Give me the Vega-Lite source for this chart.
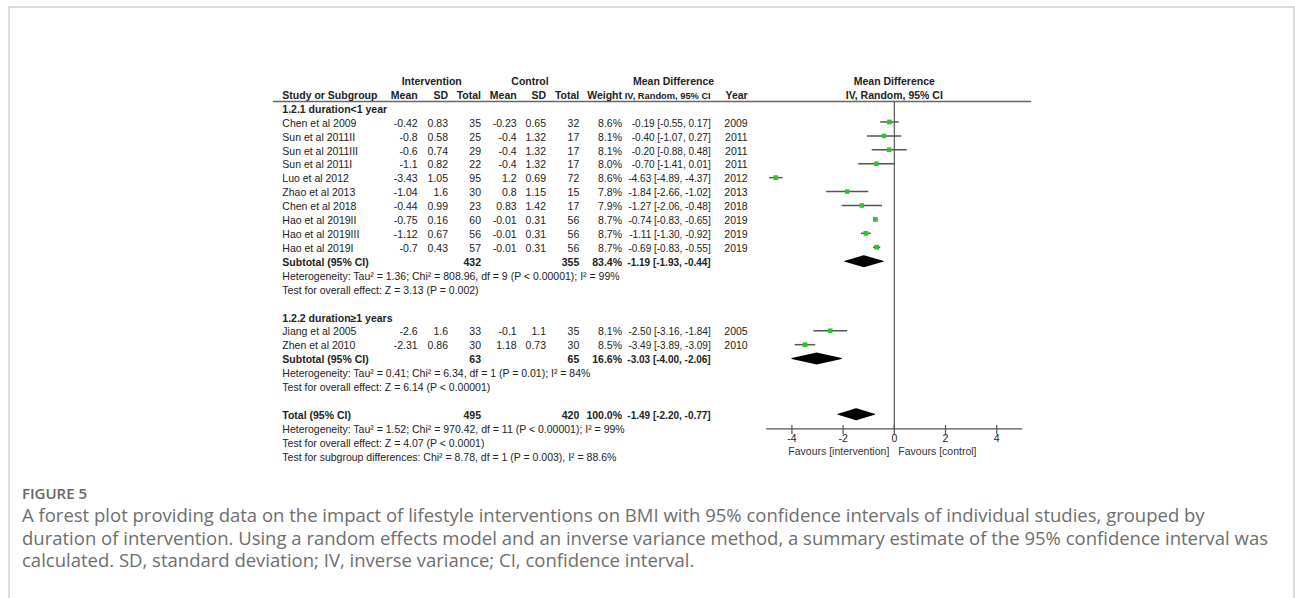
{
  "$schema": "https://vega.github.io/schema/vega-lite/v6.json",
  "width": 1285,
  "height": 592,
  "autosize": {"type": "none"},
  "padding": {"left": 9, "top": 7, "right": 1, "bottom": 0},
  "background": "white",
  "config": {
    "view": {"stroke": "#cfcfcf", "strokeWidth": 1.5},
    "text": {"font": "Liberation Sans", "fontSize": 10.5, "fill": "#222", "baseline": "middle", "dy": 1.7}
  },
  "title": {
    "text": "FIGURE 5",
    "subtitle": [
      "A forest plot providing data on the impact of lifestyle interventions on BMI with 95% confidence intervals of individual studies, grouped by",
      "duration of intervention. Using a random effects model and an inverse variance method, a summary estimate of the 95% confidence interval was",
      "calculated. SD, standard deviation; IV, inverse variance; CI, confidence interval."
    ],
    "orient": "bottom",
    "anchor": "start",
    "frame": "group",
    "offset": -112,
    "dx": 13,
    "font": "Open Sans",
    "fontSize": 15,
    "fontWeight": 600,
    "color": "#666666",
    "subtitleFont": "Open Sans",
    "subtitleFontSize": 18.5,
    "subtitleFontWeight": "normal",
    "subtitleColor": "#6e6e6e",
    "subtitleLineHeight": 22.5,
    "subtitlePadding": 5
  },
  "datasets": {
    "studies": [
      {"r": 3, "s": "Chen et al 2009", "im": "-0.42", "isd": "0.83", "it": 35, "cm": "-0.23", "csd": "0.65", "ct": 32, "w": 0.086, "ci": "-0.19 [-0.55, 0.17]", "yr": 2009, "md": -0.19, "lo": -0.55, "hi": 0.17},
      {"r": 4, "s": "Sun et al 2011II", "im": "-0.8", "isd": "0.58", "it": 25, "cm": "-0.4", "csd": "1.32", "ct": 17, "w": 0.081, "ci": "-0.40 [-1.07, 0.27]", "yr": 2011, "md": -0.40, "lo": -1.07, "hi": 0.27},
      {"r": 5, "s": "Sun et al 2011III", "im": "-0.6", "isd": "0.74", "it": 29, "cm": "-0.4", "csd": "1.32", "ct": 17, "w": 0.081, "ci": "-0.20 [-0.88, 0.48]", "yr": 2011, "md": -0.20, "lo": -0.88, "hi": 0.48},
      {"r": 6, "s": "Sun et al 2011I", "im": "-1.1", "isd": "0.82", "it": 22, "cm": "-0.4", "csd": "1.32", "ct": 17, "w": 0.080, "ci": "-0.70 [-1.41, 0.01]", "yr": 2011, "md": -0.70, "lo": -1.41, "hi": 0.01},
      {"r": 7, "s": "Luo et al 2012", "im": "-3.43", "isd": "1.05", "it": 95, "cm": "1.2", "csd": "0.69", "ct": 72, "w": 0.086, "ci": "-4.63 [-4.89, -4.37]", "yr": 2012, "md": -4.63, "lo": -4.89, "hi": -4.37},
      {"r": 8, "s": "Zhao et al 2013", "im": "-1.04", "isd": "1.6", "it": 30, "cm": "0.8", "csd": "1.15", "ct": 15, "w": 0.078, "ci": "-1.84 [-2.66, -1.02]", "yr": 2013, "md": -1.84, "lo": -2.66, "hi": -1.02},
      {"r": 9, "s": "Chen et al 2018", "im": "-0.44", "isd": "0.99", "it": 23, "cm": "0.83", "csd": "1.42", "ct": 17, "w": 0.079, "ci": "-1.27 [-2.06, -0.48]", "yr": 2018, "md": -1.27, "lo": -2.06, "hi": -0.48},
      {"r": 10, "s": "Hao et al 2019II", "im": "-0.75", "isd": "0.16", "it": 60, "cm": "-0.01", "csd": "0.31", "ct": 56, "w": 0.087, "ci": "-0.74 [-0.83, -0.65]", "yr": 2019, "md": -0.74, "lo": -0.83, "hi": -0.65},
      {"r": 11, "s": "Hao et al 2019III", "im": "-1.12", "isd": "0.67", "it": 56, "cm": "-0.01", "csd": "0.31", "ct": 56, "w": 0.087, "ci": "-1.11 [-1.30, -0.92]", "yr": 2019, "md": -1.11, "lo": -1.30, "hi": -0.92},
      {"r": 12, "s": "Hao et al 2019I", "im": "-0.7", "isd": "0.43", "it": 57, "cm": "-0.01", "csd": "0.31", "ct": 56, "w": 0.087, "ci": "-0.69 [-0.83, -0.55]", "yr": 2019, "md": -0.69, "lo": -0.83, "hi": -0.55},
      {"r": 18, "s": "Jiang et al 2005", "im": "-2.6", "isd": "1.6", "it": 33, "cm": "-0.1", "csd": "1.1", "ct": 35, "w": 0.081, "ci": "-2.50 [-3.16, -1.84]", "yr": 2005, "md": -2.50, "lo": -3.16, "hi": -1.84},
      {"r": 19, "s": "Zhen et al 2010", "im": "-2.31", "isd": "0.86", "it": 30, "cm": "1.18", "csd": "0.73", "ct": 30, "w": 0.085, "ci": "-3.49 [-3.89, -3.09]", "yr": 2010, "md": -3.49, "lo": -3.89, "hi": -3.09}
    ],
    "subs": [
      {"r": 13, "s": "Subtotal (95% CI)", "it": 432, "ct": 355, "w": 0.834, "ci": "-1.19 [-1.93, -0.44]"},
      {"r": 20, "s": "Subtotal (95% CI)", "it": 63, "ct": 65, "w": 0.166, "ci": "-3.03 [-4.00, -2.06]"},
      {"r": 24, "s": "Total (95% CI)", "it": 495, "ct": 420, "w": 1.0, "ci": "-1.49 [-2.20, -0.77]"}
    ],
    "diam": [
      {"g": "s1", "r": 13, "x": -1.93, "h": 0},
      {"g": "s1", "r": 13, "x": -1.19, "h": 1},
      {"g": "s1", "r": 13, "x": -0.44, "h": 0},
      {"g": "s2", "r": 20, "x": -4.00, "h": 0},
      {"g": "s2", "r": 20, "x": -3.03, "h": 1},
      {"g": "s2", "r": 20, "x": -2.06, "h": 0},
      {"g": "t", "r": 24, "x": -2.20, "h": 0},
      {"g": "t", "r": 24, "x": -1.49, "h": 1},
      {"g": "t", "r": 24, "x": -0.77, "h": 0}
    ],
    "notes": [
      {"r": 2, "t": "1.2.1 duration<1 year", "b": 1},
      {"r": 14, "t": "Heterogeneity: Tau² = 1.36; Chi² = 808.96, df = 9 (P < 0.00001); I² = 99%", "b": 0},
      {"r": 15, "t": "Test for overall effect: Z = 3.13 (P = 0.002)", "b": 0},
      {"r": 17, "t": "1.2.2 duration≥1 years", "b": 1},
      {"r": 21, "t": "Heterogeneity: Tau² = 0.41; Chi² = 6.34, df = 1 (P = 0.01); I² = 84%", "b": 0},
      {"r": 22, "t": "Test for overall effect: Z = 6.14 (P < 0.00001)", "b": 0},
      {"r": 25, "t": "Heterogeneity: Tau² = 1.52; Chi² = 970.42, df = 11 (P < 0.00001); I² = 99%", "b": 0},
      {"r": 26, "t": "Test for overall effect: Z = 4.07 (P < 0.0001)", "b": 0},
      {"r": 27, "t": "Test for subgroup differences: Chi² = 8.78, df = 1 (P = 0.003), I² = 88.6%", "b": 0}
    ],
    "hdr": [
      {"r": 0, "c": 3, "t": "Intervention", "a": "c"},
      {"r": 0, "c": 7, "t": "Control", "a": "c"},
      {"r": 0, "c": 11, "t": "Mean Difference", "a": "c"},
      {"r": 1, "c": 1, "t": "Study or Subgroup", "a": "l"},
      {"r": 1, "c": 2, "t": "Mean", "a": "r"},
      {"r": 1, "c": 4, "t": "SD", "a": "r"},
      {"r": 1, "c": 5, "t": "Total", "a": "r"},
      {"r": 1, "c": 6, "t": "Mean", "a": "r"},
      {"r": 1, "c": 8, "t": "SD", "a": "r"},
      {"r": 1, "c": 9, "t": "Total", "a": "r"},
      {"r": 1, "c": 10, "t": "Weight", "a": "r"},
      {"r": 1, "c": 12, "t": "IV, Random, 95% CI", "a": "n"},
      {"r": 1, "c": 13, "t": "Year", "a": "r"}
    ],
    "fhdr": [
      {"r": 0, "v": 0, "t": "Mean Difference"},
      {"r": 1, "v": 0, "t": "IV, Random, 95% CI"}
    ],
    "ticks": [
      {"v": -4}, {"v": -2}, {"v": 0}, {"v": 2}, {"v": 4}
    ],
    "fav": [
      {"v": 0, "t": "Favours [intervention]", "side": "l"},
      {"v": 0, "t": "Favours [control]", "side": "r"}
    ]
  },
  "layer": [
    {
      "layer": [
        {
          "data": {"name": "hdr"},
          "transform": [{"filter": "datum.c == 1"}],
          "mark": {"type": "rule", "color": "#666666", "strokeWidth": 1.5},
          "encoding": {
            "x": {"datum": 0, "type": "quantitative", "scale": {"domain": [0, 1, 2, 3, 4, 5, 6, 7, 8, 9, 10, 11, 12, 13, 14], "range": [264, 273.3, 408.7, 422.7, 439, 472, 507.7, 521, 537, 570.3, 613, 664.5, 701.7, 738.7, 1022], "nice": false, "zero": false}, "axis": null},
            "x2": {"datum": 14},
            "y": {"datum": 1.53, "type": "quantitative", "scale": {"domain": [0, 27], "range": [73.2, 449.04], "nice": false, "zero": false}, "axis": null}
          }
        },
        {
          "encoding": {
            "y": {"field": "r", "type": "quantitative", "scale": {"domain": [0, 27], "range": [73.2, 449.04], "nice": false, "zero": false}, "axis": null}
          },
          "layer": [
            {
              "data": {"name": "hdr"},
              "transform": [{"filter": "datum.a == 'c'"}],
              "mark": {"type": "text", "align": "center", "fontWeight": "bold"},
              "encoding": {"x": {"field": "c", "type": "quantitative", "axis": null}, "text": {"field": "t"}}
            },
            {
              "data": {"name": "hdr"},
              "transform": [{"filter": "datum.a == 'l'"}],
              "mark": {"type": "text", "align": "left", "fontWeight": "bold"},
              "encoding": {"x": {"field": "c", "type": "quantitative", "axis": null}, "text": {"field": "t"}}
            },
            {
              "data": {"name": "hdr"},
              "transform": [{"filter": "datum.a == 'r'"}],
              "mark": {"type": "text", "align": "right", "fontWeight": "bold"},
              "encoding": {"x": {"field": "c", "type": "quantitative", "axis": null}, "text": {"field": "t"}}
            },
            {
              "data": {"name": "hdr"},
              "transform": [{"filter": "datum.a == 'n'"}],
              "mark": {"type": "text", "align": "right", "fontWeight": "bold", "fontSize": 9.3},
              "encoding": {"x": {"field": "c", "type": "quantitative", "axis": null}, "text": {"field": "t"}}
            },
            {
              "data": {"name": "notes"},
              "transform": [{"filter": "datum.b == 1"}],
              "mark": {"type": "text", "align": "left", "fontWeight": "bold"},
              "encoding": {"x": {"datum": 1, "type": "quantitative", "axis": null}, "text": {"field": "t"}}
            },
            {
              "data": {"name": "notes"},
              "transform": [{"filter": "datum.b == 0"}],
              "mark": {"type": "text", "align": "left"},
              "encoding": {"x": {"datum": 1, "type": "quantitative", "axis": null}, "text": {"field": "t"}}
            },
            {
              "data": {"name": "studies"},
              "mark": {"type": "text", "align": "left"},
              "encoding": {"x": {"datum": 1, "type": "quantitative", "axis": null}, "text": {"field": "s"}}
            },
            {
              "data": {"name": "studies"},
              "mark": {"type": "text", "align": "right"},
              "encoding": {"x": {"datum": 2, "type": "quantitative", "axis": null}, "text": {"field": "im", "type": "nominal"}}
            },
            {
              "data": {"name": "studies"},
              "mark": {"type": "text", "align": "right"},
              "encoding": {"x": {"datum": 4, "type": "quantitative", "axis": null}, "text": {"field": "isd", "type": "nominal"}}
            },
            {
              "data": {"name": "studies"},
              "mark": {"type": "text", "align": "right"},
              "encoding": {"x": {"datum": 5, "type": "quantitative", "axis": null}, "text": {"field": "it", "type": "nominal"}}
            },
            {
              "data": {"name": "studies"},
              "mark": {"type": "text", "align": "right"},
              "encoding": {"x": {"datum": 6, "type": "quantitative", "axis": null}, "text": {"field": "cm", "type": "nominal"}}
            },
            {
              "data": {"name": "studies"},
              "mark": {"type": "text", "align": "right"},
              "encoding": {"x": {"datum": 8, "type": "quantitative", "axis": null}, "text": {"field": "csd", "type": "nominal"}}
            },
            {
              "data": {"name": "studies"},
              "mark": {"type": "text", "align": "right"},
              "encoding": {"x": {"datum": 9, "type": "quantitative", "axis": null}, "text": {"field": "ct", "type": "nominal"}}
            },
            {
              "data": {"name": "studies"},
              "mark": {"type": "text", "align": "right"},
              "encoding": {"x": {"datum": 10, "type": "quantitative", "axis": null}, "text": {"field": "w", "type": "quantitative", "format": ".1%"}}
            },
            {
              "data": {"name": "studies"},
              "mark": {"type": "text", "align": "right", "fontSize": 10},
              "encoding": {"x": {"datum": 12, "type": "quantitative", "axis": null}, "text": {"field": "ci", "type": "nominal"}}
            },
            {
              "data": {"name": "studies"},
              "mark": {"type": "text", "align": "right"},
              "encoding": {"x": {"datum": 13, "type": "quantitative", "axis": null}, "text": {"field": "yr", "type": "nominal"}}
            },
            {
              "data": {"name": "subs"},
              "mark": {"type": "text", "align": "left", "fontWeight": "bold"},
              "encoding": {"x": {"datum": 1, "type": "quantitative", "axis": null}, "text": {"field": "s"}}
            },
            {
              "data": {"name": "subs"},
              "mark": {"type": "text", "align": "right", "fontWeight": "bold"},
              "encoding": {"x": {"datum": 5, "type": "quantitative", "axis": null}, "text": {"field": "it", "type": "nominal"}}
            },
            {
              "data": {"name": "subs"},
              "mark": {"type": "text", "align": "right", "fontWeight": "bold"},
              "encoding": {"x": {"datum": 9, "type": "quantitative", "axis": null}, "text": {"field": "ct", "type": "nominal"}}
            },
            {
              "data": {"name": "subs"},
              "mark": {"type": "text", "align": "right", "fontWeight": "bold"},
              "encoding": {"x": {"datum": 10, "type": "quantitative", "axis": null}, "text": {"field": "w", "type": "quantitative", "format": ".1%"}}
            },
            {
              "data": {"name": "subs"},
              "mark": {"type": "text", "align": "right", "fontWeight": "bold", "fontSize": 10},
              "encoding": {"x": {"datum": 12, "type": "quantitative", "axis": null}, "text": {"field": "ci", "type": "nominal"}}
            }
          ]
        }
      ]
    },
    {
      "resolve": {"scale": {"size": "independent"}},
      "layer": [
        {
          "data": {"name": "fhdr"},
          "transform": [{"filter": "datum.r == 0"}],
          "mark": {"type": "rule", "color": "#555555", "strokeWidth": 1.2},
          "encoding": {
            "x": {"field": "v", "type": "quantitative", "scale": {"domain": [-5, 5], "range": [757.3, 1013.3], "nice": false, "zero": false}, "axis": null},
            "y": {"datum": 1.53, "type": "quantitative", "scale": {"domain": [0, 27], "range": [73.2, 449.04], "nice": false, "zero": false}, "axis": null},
            "y2": {"datum": 25.05}
          }
        },
        {
          "data": {"name": "ticks"},
          "transform": [{"filter": "datum.v == 0"}],
          "mark": {"type": "rule", "color": "#555555", "strokeWidth": 1.2},
          "encoding": {
            "x": {"datum": -5, "type": "quantitative", "axis": null},
            "x2": {"datum": 5},
            "y": {"datum": 25.05, "type": "quantitative", "axis": null}
          }
        },
        {
          "data": {"name": "ticks"},
          "mark": {"type": "rule", "color": "#555555", "strokeWidth": 1.2},
          "encoding": {
            "x": {"field": "v", "type": "quantitative", "axis": null},
            "y": {"datum": 24.77, "type": "quantitative", "axis": null},
            "y2": {"datum": 25.41}
          }
        },
        {
          "data": {"name": "ticks"},
          "mark": {"type": "text", "align": "center", "baseline": "middle", "dy": 0, "fill": "#222222"},
          "encoding": {
            "x": {"field": "v", "type": "quantitative", "axis": null},
            "y": {"datum": 25.78, "type": "quantitative", "axis": null},
            "text": {"field": "v", "type": "nominal"}
          }
        },
        {
          "data": {"name": "fav"},
          "transform": [{"filter": "datum.side == 'l'"}],
          "mark": {"type": "text", "align": "right", "baseline": "middle", "dy": 0, "dx": -5, "fill": "#333333"},
          "encoding": {
            "x": {"field": "v", "type": "quantitative", "axis": null},
            "y": {"datum": 26.71, "type": "quantitative", "axis": null},
            "text": {"field": "t"}
          }
        },
        {
          "data": {"name": "fav"},
          "transform": [{"filter": "datum.side == 'r'"}],
          "mark": {"type": "text", "align": "left", "baseline": "middle", "dy": 0, "dx": 4, "fill": "#333333"},
          "encoding": {
            "x": {"field": "v", "type": "quantitative", "axis": null},
            "y": {"datum": 26.71, "type": "quantitative", "axis": null},
            "text": {"field": "t"}
          }
        },
        {
          "encoding": {
            "y": {"field": "r", "type": "quantitative", "scale": {"domain": [0, 27], "range": [73.2, 449.04], "nice": false, "zero": false}, "axis": null}
          },
          "resolve": {"scale": {"size": "independent"}},
          "layer": [
            {
              "data": {"name": "studies"},
              "mark": {"type": "rule", "color": "#555555", "strokeWidth": 1.5},
              "encoding": {
                "x": {"field": "lo", "type": "quantitative", "axis": null},
                "x2": {"field": "hi"}
              }
            },
            {
              "data": {"name": "studies"},
              "mark": {"type": "point", "shape": "square", "filled": true, "color": "#2fc42f", "opacity": 1},
              "encoding": {
                "x": {"field": "md", "type": "quantitative", "axis": null},
                "size": {"field": "w", "type": "quantitative", "scale": {"domain": [0, 0.1], "range": [0, 26]}, "legend": null}
              }
            },
            {
              "data": {"name": "diam"},
              "mark": {"type": "trail", "color": "#000000"},
              "encoding": {
                "x": {"field": "x", "type": "quantitative", "axis": null},
                "detail": {"field": "g"},
                "size": {"field": "h", "type": "quantitative", "scale": {"domain": [0, 1], "range": [0, 12]}, "legend": null}
              }
            },
            {
              "data": {"name": "fhdr"},
              "mark": {"type": "text", "align": "center", "fontWeight": "bold"},
              "encoding": {
                "x": {"field": "v", "type": "quantitative", "axis": null},
                "text": {"field": "t"}
              }
            }
          ]
        }
      ]
    }
  ],
  "resolve": {"scale": {"x": "independent", "size": "independent"}}
}
